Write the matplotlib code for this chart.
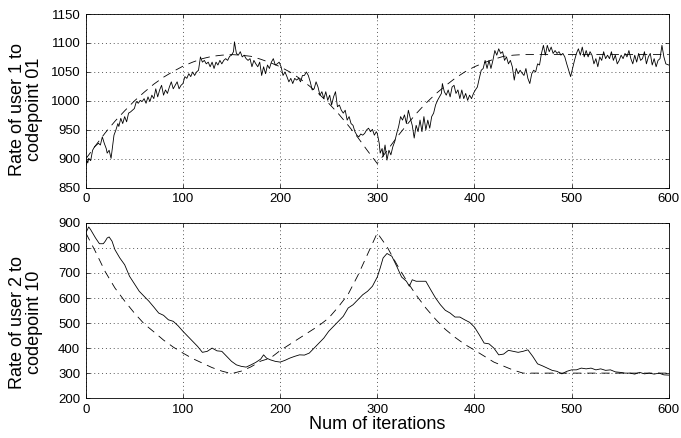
import numpy as np
import matplotlib.pyplot as plt

plt.rcParams['font.family'] = ['Liberation Sans', 'DejaVu Sans']

# ---- user 1 / codepoint 01 (top panel) ----
top_iter = [0, 1, 2, 3, 5, 7, 9, 11, 13, 15, 17, 19, 21, 22, 24, 26, 28, 29, 31, 33, 34, 36, 38,
            40, 42, 44, 46, 48, 50, 52, 54, 56, 58, 60, 62, 64, 66, 68, 70, 72, 74, 76, 78, 80,
            82, 84, 86, 88, 90, 92, 94, 96, 98, 100, 102, 104, 106, 108, 110, 112, 114, 116, 118,
            120, 122, 124, 126, 128, 130, 132, 134, 136, 138, 140, 142, 144, 146, 148, 150, 152,
            153, 155, 157, 159, 161, 163, 165, 167, 169, 171, 173, 175, 177, 179, 181, 183, 185,
            187, 189, 191, 193, 195, 197, 199, 201, 203, 205, 207, 209, 211, 213, 215, 217, 219,
            221, 223, 225, 227, 229, 231, 233, 235, 237, 239, 241, 243, 245, 247, 249, 251, 253,
            255, 257, 259, 261, 263, 265, 267, 269, 271, 273, 275, 277, 279, 281, 283, 285, 287,
            289, 291, 293, 295, 297, 299, 300, 302, 303, 305, 306, 308, 310, 312, 314, 316, 318,
            320, 322, 324, 326, 328, 330, 332, 334, 336, 338, 340, 342, 344, 346, 348, 350, 352,
            354, 356, 358, 360, 362, 364, 366, 367, 369, 371, 373, 375, 377, 379, 381, 383, 385,
            387, 389, 391, 393, 395, 397, 399, 401, 403, 405, 407, 409, 411, 413, 415, 417, 419,
            421, 423, 425, 427, 429, 431, 433, 435, 437, 439, 441, 443, 445, 447, 449, 451, 453,
            455, 457, 459, 461, 463, 465, 467, 469, 471, 473, 475, 477, 479, 481, 483, 485, 487,
            489, 491, 493, 495, 497, 499, 501, 503, 505, 507, 509, 511, 513, 515, 517, 519, 521,
            523, 525, 527, 529, 531, 533, 535, 537, 539, 541, 543, 545, 547, 549, 551, 553, 555,
            557, 559, 561, 563, 565, 567, 569, 571, 573, 575, 577, 579, 581, 583, 585, 587, 589,
            591, 593, 595, 597, 600]
top_rate = [887, 898, 893, 901, 897, 915, 921, 924, 927, 924, 938, 927, 918, 910, 915, 901, 927, 941,
            950, 961, 956, 970, 961, 973, 964, 979, 981, 984, 987, 999, 996, 1001, 999, 1004, 996,
            1007, 999, 1010, 1004, 1021, 1007, 1019, 1027, 1010, 1019, 1013, 1024, 1033, 1021, 1027,
            1033, 1021, 1027, 1030, 1042, 1039, 1047, 1042, 1050, 1044, 1050, 1053, 1076, 1067, 1070,
            1064, 1067, 1059, 1067, 1056, 1067, 1062, 1070, 1064, 1070, 1073, 1070, 1077, 1079, 1085,
            1102, 1082, 1079, 1085, 1076, 1079, 1073, 1070, 1073, 1059, 1070, 1064, 1059, 1067, 1044,
            1059, 1047, 1062, 1056, 1067, 1073, 1062, 1064, 1067, 1059, 1044, 1050, 1042, 1033, 1039,
            1030, 1039, 1036, 1039, 1033, 1044, 1044, 1050, 1044, 1033, 1019, 1021, 1033, 1024, 1010,
            1016, 1004, 1016, 1001, 1010, 993, 1007, 1016, 990, 993, 984, 979, 984, 967, 973, 961,
            958, 947, 941, 938, 943, 941, 944, 950, 953, 947, 951, 941, 947, 944, 927, 910, 918, 904,
            924, 898, 915, 907, 921, 930, 944, 956, 973, 967, 976, 961, 984, 970, 958, 936, 958, 947,
            967, 947, 973, 950, 967, 953, 973, 979, 993, 1001, 1007, 1013, 1030, 1016, 1010, 1019,
            1007, 1024, 1027, 1013, 1019, 1004, 1019, 1004, 1013, 1001, 1010, 1004, 1013, 1019, 1024,
            1039, 1053, 1056, 1070, 1056, 1070, 1056, 1070, 1087, 1079, 1090, 1082, 1085, 1070, 1076,
            1064, 1070, 1059, 1036, 1056, 1047, 1053, 1048, 1044, 1056, 1039, 1030, 1047, 1053, 1050,
            1064, 1062, 1082, 1096, 1079, 1096, 1085, 1093, 1082, 1087, 1082, 1085, 1079, 1082, 1076,
            1064, 1053, 1042, 1056, 1070, 1082, 1090, 1079, 1093, 1076, 1087, 1076, 1085, 1079, 1064,
            1073, 1059, 1076, 1070, 1085, 1073, 1079, 1073, 1085, 1070, 1079, 1064, 1070, 1079, 1073,
            1082, 1076, 1087, 1073, 1064, 1079, 1067, 1082, 1070, 1073, 1085, 1064, 1076, 1082, 1062,
            1073, 1059, 1070, 1073, 1096, 1076, 1064, 1062]

ref_iter = [0, 10, 20, 30, 40, 50, 60, 70, 80, 90, 100, 110, 120, 130, 140, 150, 160, 170, 180,
            190, 200, 210, 220, 230, 240, 250, 260, 270, 280, 290, 300, 310, 320, 330, 340, 350,
            360, 370, 380, 390, 400, 410, 420, 430, 440, 450, 600]
top_ref = [900, 923, 945, 965, 983, 1000, 1015, 1029, 1041, 1051, 1060, 1067, 1073, 1077, 1079,
           1080, 1079, 1077, 1072, 1066, 1059, 1050, 1039, 1026, 1012, 996, 978, 958, 937, 914,
           892, 914, 937, 958, 978, 996, 1012, 1026, 1039, 1050, 1059, 1066, 1072, 1077, 1079,
           1080, 1080]

# ---- user 2 / codepoint 10 (bottom panel) ----
bot_iter = [0, 3, 5, 10, 14, 18, 20, 22, 24, 27, 30, 35, 40, 45, 50, 55, 60, 65, 70, 75, 80, 85,
            90, 95, 100, 105, 110, 115, 120, 125, 130, 135, 140, 145, 150, 155, 160, 165, 170, 175,
            180, 183, 186, 190, 195, 200, 205, 210, 215, 220, 225, 230, 235, 240, 245, 250, 255,
            260, 265, 270, 275, 280, 285, 290, 295, 300, 303, 306, 310, 315, 320, 325, 330, 333,
            336, 340, 345, 350, 355, 360, 365, 370, 375, 380, 385, 390, 395, 400, 405, 410, 415,
            420, 425, 430, 435, 440, 445, 450, 455, 460, 465, 470, 475, 480, 485, 490, 495, 500,
            505, 510, 515, 520, 525, 530, 535, 540, 545, 550, 555, 560, 565, 570, 575, 580, 585,
            590, 595, 600]
bot_rate = [860, 884, 873, 840, 817, 817, 827, 840, 844, 827, 793, 760, 733, 687, 657, 627, 607,
            587, 564, 540, 531, 513, 507, 489, 467, 447, 427, 407, 383, 387, 400, 389, 387, 367,
            347, 333, 327, 324, 333, 343, 356, 373, 360, 353, 347, 344, 351, 360, 367, 373, 372,
            380, 400, 420, 440, 467, 487, 507, 527, 560, 573, 593, 613, 627, 647, 684, 720, 760,
            778, 767, 727, 684, 667, 647, 673, 667, 667, 667, 633, 600, 573, 551, 540, 524, 524,
            513, 503, 484, 453, 420, 417, 400, 373, 376, 391, 387, 383, 387, 393, 367, 337, 329,
            320, 311, 307, 297, 307, 313, 313, 320, 317, 320, 313, 317, 311, 313, 305, 303, 300,
            300, 296, 303, 297, 300, 296, 300, 293, 292]

bot_ref = [860, 785, 705, 640, 588, 540, 497, 465, 432, 404, 380, 358, 340, 322, 308, 298, 308,
           325, 348, 360, 390, 415, 440, 465, 490, 520, 565, 615, 690, 775, 860, 805, 735, 670,
           612, 560, 515, 475, 443, 415, 392, 368, 344, 328, 312, 300, 300]

fig = plt.figure(figsize=(6.81, 4.38), dpi=100)
ax1 = fig.add_axes([0.126, 0.571, 0.856, 0.397])
ax2 = fig.add_axes([0.126, 0.091, 0.856, 0.400])

for ax in (ax1, ax2):
    ax.grid(True, linestyle=(0, (1, 3)), color='0.35', linewidth=0.7)
    ax.set_xlim(0, 600)
    ax.set_xticks(np.arange(0, 601, 100))
    ax.tick_params(direction='in', top=True, right=True, length=3, width=0.5,
                   labelsize=9.5, pad=4)
    for s in ax.spines.values():
        s.set_linewidth(0.6)

ax1.plot(top_iter, top_rate, color='black', linewidth=0.6)
ax1.plot(ref_iter, top_ref, color='black', linewidth=0.6, dashes=(10, 7))
ax1.set_ylim(850, 1150)
ax1.set_yticks(np.arange(850, 1151, 50))
ax1.set_ylabel('Rate of user 1 to\ncodepoint 01', fontsize=13, linespacing=1.0)
ax1.yaxis.set_label_coords(-0.074, 0.45)

ax2.plot(bot_iter, bot_rate, color='black', linewidth=0.6)
ax2.plot(ref_iter, bot_ref, color='black', linewidth=0.6, dashes=(10, 7))
ax2.set_ylim(200, 900)
ax2.set_yticks(np.arange(200, 901, 100))
ax2.set_ylabel('Rate of user 2 to\ncodepoint 10', fontsize=13, linespacing=1.0)
ax2.yaxis.set_label_coords(-0.074, 0.43)
ax2.set_xlabel('Num of iterations', fontsize=13, labelpad=0)

fig.savefig('out.png', dpi=100)
